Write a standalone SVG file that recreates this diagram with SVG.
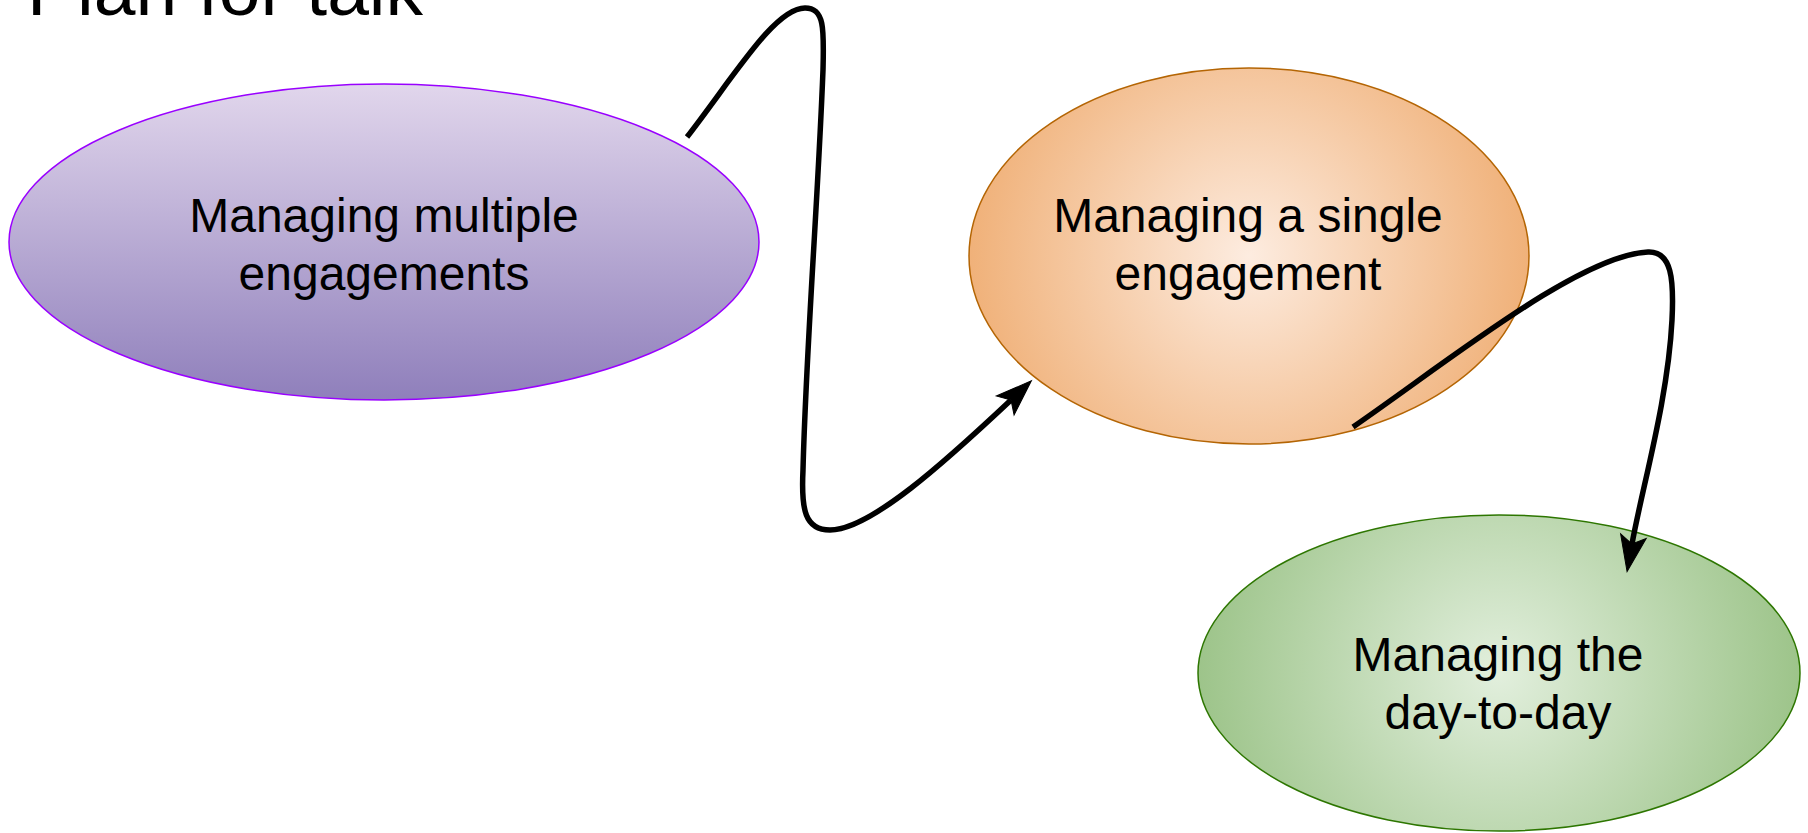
<svg xmlns="http://www.w3.org/2000/svg" width="1808" height="833" viewBox="0 0 1808 833">
  <style>
    .label { font-family: "Liberation Sans", Arial, sans-serif; font-size: 48px; fill: #000000; text-anchor: middle; }
    .title { font-family: "Liberation Sans", Arial, sans-serif; font-size: 75px; fill: #000000; }
    .edge { fill: none; stroke: #000000; stroke-width: 5.5; stroke-linejoin: round; }
  </style>
  <defs>
    <linearGradient id="gradPurple" x1="0" y1="0" x2="0" y2="1">
      <stop offset="0" stop-color="#e1d6ec"/>
      <stop offset="1" stop-color="#8f7fbb"/>
    </linearGradient>
    <!-- circular radial fills, radius equal to each ellipse's half-width -->
    <radialGradient id="gradOrange" gradientUnits="userSpaceOnUse" cx="1249" cy="256" r="280">
      <stop offset="0" stop-color="#fdece0"/>
      <stop offset="1" stop-color="#f0b179"/>
    </radialGradient>
    <radialGradient id="gradGreen" gradientUnits="userSpaceOnUse" cx="1499" cy="673" r="301">
      <stop offset="0" stop-color="#e2efdd"/>
      <stop offset="1" stop-color="#9dc48a"/>
    </radialGradient>
    <!-- classic arrowhead: tip at x=36, notch at x=8 (the reference point) -->
    <marker id="arrow" markerUnits="userSpaceOnUse" markerWidth="40" markerHeight="30" refX="8" refY="13" orient="auto" overflow="visible">
      <path d="M0,0 L36,13 L0,26 L8,13 Z" fill="#000000" stroke="#000000" stroke-width="1" stroke-linejoin="miter"/>
    </marker>
  </defs>

  <rect x="0" y="0" width="1808" height="833" fill="#ffffff"/>

  <text class="title" x="27" y="15">Plan for talk</text>

  <g id="node-multiple">
    <ellipse cx="384" cy="242" rx="375" ry="158" fill="url(#gradPurple)" stroke="#9900ff" stroke-width="1.5"/>
    <text class="label" x="384" y="232">Managing multiple</text>
    <text class="label" x="384" y="290">engagements</text>
  </g>

  <g id="node-single">
    <ellipse cx="1249" cy="256" rx="280" ry="188" fill="url(#gradOrange)" stroke="#b46504" stroke-width="1.5"/>
    <text class="label" x="1248" y="232">Managing a single</text>
    <text class="label" x="1248" y="290">engagement</text>
  </g>

  <g id="node-daytoday">
    <ellipse cx="1499" cy="673" rx="301" ry="158" fill="url(#gradGreen)" stroke="#2d7600" stroke-width="1.5"/>
    <text class="label" x="1498" y="671">Managing the</text>
    <text class="label" x="1498" y="729">day-to-day</text>
  </g>

  <g id="connectors">
    <path class="edge" marker-end="url(#arrow)" d="M 687 137 C 735 75, 775 8, 805 8 C 825 8, 824 30, 823 70 C 818 200, 806 350, 803 470 C 801 510, 805 530, 830 530 C 870 530, 945 462, 1011 400"/>
    <path class="edge" marker-end="url(#arrow)" d="M 1353 427 C 1450 360, 1580 255, 1648 252 C 1672 251, 1674 280, 1672 320 C 1668 400, 1642 488, 1632 544"/>
  </g>
</svg>
